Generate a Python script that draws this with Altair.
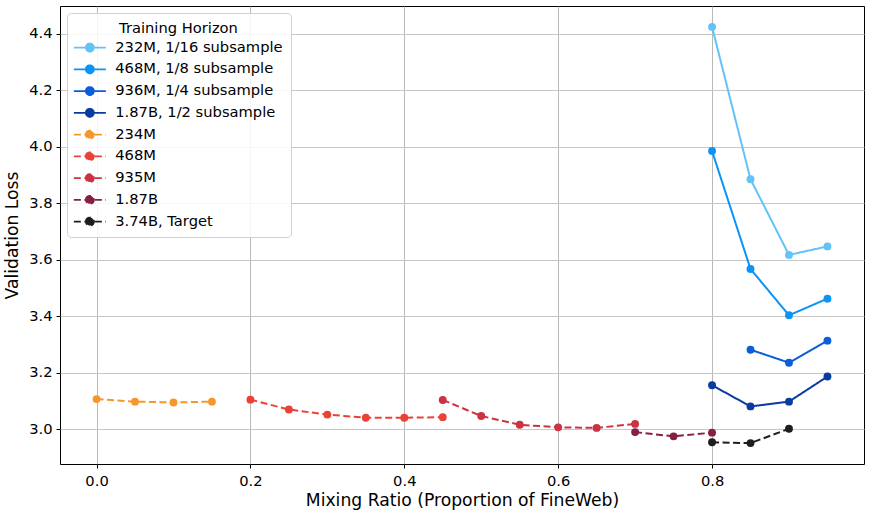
import altair as alt
import pandas as pd

# ---- data ----
series_names = [
    "232M, 1/16 subsample",
    "468M, 1/8 subsample",
    "936M, 1/4 subsample",
    "1.87B, 1/2 subsample",
    "234M",
    "468M",
    "935M",
    "1.87B",
    "3.74B, Target",
]
series_colors = ["#62C3F5", "#0A94F6", "#0B5ED8", "#0A3B9E",
                 "#F7962B", "#EA4237", "#CC3241", "#861F44", "#1E1E1E"]
series_dashed = [False, False, False, False, True, True, True, True, True]

x_232m_sub = [0.80, 0.85, 0.90, 0.95]
y_232m_sub = [4.425, 3.885, 3.617, 3.647]
x_468m_sub = [0.80, 0.85, 0.90, 0.95]
y_468m_sub = [3.985, 3.567, 3.403, 3.462]
x_936m_sub = [0.85, 0.90, 0.95]
y_936m_sub = [3.281, 3.235, 3.313]
x_187b_sub = [0.80, 0.85, 0.90, 0.95]
y_187b_sub = [3.155, 3.080, 3.097, 3.186]
x_234m = [0.00, 0.05, 0.10, 0.15]
y_234m = [3.106, 3.097, 3.094, 3.097]
x_468m = [0.20, 0.25, 0.30, 0.35, 0.40, 0.45]
y_468m = [3.104, 3.069, 3.051, 3.040, 3.040, 3.042]
x_935m = [0.45, 0.50, 0.55, 0.60, 0.65, 0.70]
y_935m = [3.103, 3.046, 3.015, 3.006, 3.004, 3.018]
x_187b = [0.70, 0.75, 0.80]
y_187b = [2.989, 2.974, 2.987]
x_target = [0.80, 0.85, 0.90]
y_target = [2.953, 2.950, 3.001]

x_ticks = [0.0, 0.2, 0.4, 0.6, 0.8]
y_ticks = [3.0, 3.2, 3.4, 3.6, 3.8, 4.0, 4.2, 4.4]

all_x = [x_232m_sub, x_468m_sub, x_936m_sub, x_187b_sub, x_234m, x_468m, x_935m, x_187b, x_target]
all_y = [y_232m_sub, y_468m_sub, y_936m_sub, y_187b_sub, y_234m, y_468m, y_935m, y_187b, y_target]

rows = []
for name, xs, ys in zip(series_names, all_x, all_y):
    for xv, yv in zip(xs, ys):
        rows.append({"series": name, "ratio": xv, "loss": yv})
df = pd.DataFrame(rows)

FONT = "DejaVu Sans"
FS = 14.7
dash_range = [[7, 3.5] if d else [1, 0] for d in series_dashed]

# legend symbol: a line with a dot in the middle
legend_symbol = ("M-2,0H6"
                 "M1,0A1,1,0,1,1,3,0A1,1,0,1,1,1,0Z")

legend = alt.Legend(
    title="Training Horizon",
    orient="top-left",
    offset=7,
    symbolType=legend_symbol,
    symbolSize=64,
    symbolStrokeWidth=1.8,
    labelOffset=26,
    rowPadding=5.75,
    padding=7.5,
    titleAnchor="middle",
    titleFontWeight="normal",
    titleFontSize=FS,
    titleFont=FONT,
    titleColor="#000000",
    titlePadding=5,
    labelFontSize=FS,
    labelFont=FONT,
    labelColor="#000000",
    fillColor="rgba(255,255,255,0.85)",
    strokeColor="#d0d0d0",
    cornerRadius=4,
    labelLimit=300,
)

x_enc = alt.X("ratio:Q",
              scale=alt.Scale(domain=[-0.0475, 0.9975], nice=False, zero=False),
              axis=alt.Axis(values=x_ticks, format=".1f",
                            title="Mixing Ratio (Proportion of FineWeb)",
                            gridColor="#b0b0b0", gridWidth=0.9,
                            labelPadding=5, titlePadding=4))
y_enc = alt.Y("loss:Q",
              scale=alt.Scale(domain=[2.876, 4.499], nice=False, zero=False),
              axis=alt.Axis(values=y_ticks, format=".1f",
                            title="Validation Loss",
                            gridColor="#c8c8c8", gridWidth=1.2,
                            labelPadding=4, titlePadding=7))

base = alt.Chart(df)

lines = base.mark_line(strokeWidth=2).encode(
    x=x_enc,
    y=y_enc,
    stroke=alt.Stroke("series:N",
                      scale=alt.Scale(domain=series_names, range=series_colors),
                      sort=series_names, legend=legend),
    strokeDash=alt.StrokeDash("series:N",
                              scale=alt.Scale(domain=series_names, range=dash_range),
                              sort=series_names, legend=legend),
    detail="series:N",
    order="ratio:Q",
)

points = base.mark_point(filled=True, size=62, opacity=1).encode(
    x=x_enc,
    y=y_enc,
    fill=alt.Fill("series:N",
                  scale=alt.Scale(domain=series_names, range=series_colors),
                  sort=series_names, legend=legend),
)

chart = (
    alt.layer(lines, points)
    .properties(
        width=804,
        height=458,
        background="white",
        autosize=alt.AutoSizeParams(type="none"),
        padding={"left": 60, "top": 6, "right": 8, "bottom": 52},
    )
    .configure_view(stroke="#000000", strokeWidth=1)
    .configure_axis(
        labelFont=FONT, titleFont=FONT,
        labelFontSize=FS, titleFontSize=17.2,
        labelColor="#000000", titleColor="#000000",
        titleFontWeight="normal",
        tickColor="#000000", tickSize=4, tickWidth=1,
        domain=False,
        grid=True,
    )
)

chart.save("out.html", embed_options={"renderer": "svg", "actions": False})
